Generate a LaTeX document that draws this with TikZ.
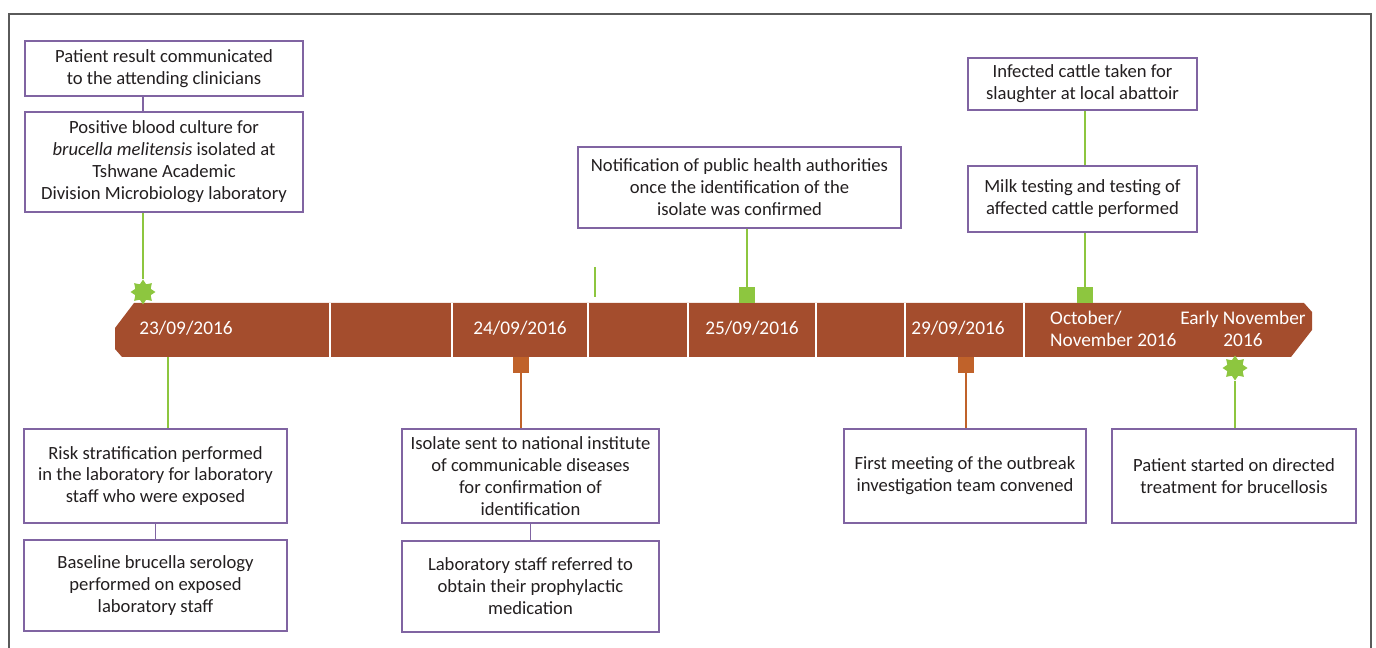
\documentclass[tikz,border=0pt]{standalone}
\usepackage{fontspec}
\setmainfont{Carlito}
\usetikzlibrary{shapes.geometric}

\definecolor{barbrown}{RGB}{164,77,45}
\definecolor{leafgreen}{RGB}{141,198,63}
\definecolor{rust}{RGB}{192,98,42}
\definecolor{boxpurple}{RGB}{128,100,162}
\definecolor{framegray}{RGB}{90,90,90}
\definecolor{inkgray}{RGB}{35,31,32}

\tikzset{
  box/.style 2 args={draw=boxpurple,line width=0.9pt,fill=white,align=center,inner sep=0pt,
    minimum width=#1*0.02cm,minimum height=#2*0.02cm},
  date/.style={text=white,align=center,font=\fontsize{11}{12.5}\selectfont},
  sun/.style={star,star points=8,star point ratio=1.5,fill=leafgreen,minimum size=0.5cm,inner sep=0pt},
  tab/.style={fill=#1,minimum size=0.31cm,inner sep=0pt},
  greenline/.style={draw=leafgreen,line width=0.9pt},
  rustline/.style={draw=rust,line width=0.9pt},
  purpleline/.style={draw=boxpurple,line width=0.9pt}
}

\begin{document}
\begin{tikzpicture}[x=0.02cm,y=-0.02cm,every node/.style={text=inkgray,font=\fontsize{10.6}{12.5}\selectfont}]
	\useasboundingbox (0,0) rectangle (1376,648);
	\draw[framegray,line width=1pt] (9,648) -- (9,14) -- (1371,14) -- (1371,648);

	% the time bar
	\fill[barbrown] (134,303) -- (1304,303) -- (1312,312) -- (1312,330) -- (1291,357)
		-- (122,357) -- (115,349) -- (115,328) -- cycle;
	\foreach \x in {330,452,588,688,816,905,1024}
		\draw[white,line width=0.8pt] (\x,303) -- (\x,357);

	\node[date] (d23) at (186,328) {23/09/2016};
	\node[date] (d24) at (520,328) {24/09/2016};
	\node[date] (d25) at (752,328) {25/09/2016};
	\node[date] (d29) at (958,328) {29/09/2016};
	\node[date,align=left,anchor=west] (doct) at (1044,329) {October/\\November 2016};
	\node[date] (dnov) at (1243,329) {Early November\\2016};

	% boxes above the bar
	\node[box={278}{55}] (result) at (164,68.5) {Patient result communicated\\to the attending clinicians};
	\node[box={278}{100}] (blood) at (164,162) {Positive blood culture for\\\textit{brucella melitensis} isolated at\\Tshwane Academic\\Division Microbiology laboratory};
	\node[box={323}{81}] (notify) at (739.5,187.5) {Notification of public health authorities\\once the identification of the\\isolate was confirmed};
	\node[box={229}{52}] (cattle) at (1082.5,84) {Infected cattle taken for\\slaughter at local abattoir};
	\node[box={229}{66}] (milk) at (1082.5,199) {Milk testing and testing of\\affected cattle performed};

	% boxes below the bar
	\node[box={263}{94}] (risk) at (155.5,476) {Risk stratification performed\\in the laboratory for laboratory\\staff who were exposed};
	\node[box={263}{91}] (sero) at (155.5,585.5) {Baseline brucella serology\\performed on exposed\\laboratory staff};
	\node[box={257}{94}] (isolate) at (530.5,476) {Isolate sent to national institute\\of communicable diseases\\for confirmation of\\identification};
	\node[box={257}{91}] (referred) at (530.5,586.5) {Laboratory staff referred to\\obtain their prophylactic\\medication};
	\node[box={242}{94}] (meeting) at (965,476) {First meeting of the outbreak\\investigation team convened};
	\node[box={244}{94}] (started) at (1234,476) {Patient started on directed\\treatment for brucellosis};

	% markers on the bar
	\node[sun] (sun1) at (143,292) {};
	\node[sun] (sun2) at (1235,368) {};
	\node[tab=leafgreen,anchor=south] (sq25) at (747,303) {};
	\node[tab=leafgreen,anchor=south] (sqoct) at (1085,303) {};
	\node[tab=rust,anchor=north] (sq24) at (521,357) {};
	\node[tab=rust,anchor=north] (sq29) at (966,357) {};
	\coordinate (tick23) at (168,357);
	\coordinate (stubtop) at (595,267);
	\coordinate (stubbot) at (595,297);

	% connectors
	\draw[purpleline] (result.south -| sun1) -- (blood.north -| sun1);
	\draw[purpleline] (risk.south) -- (sero.north);
	\draw[purpleline] (isolate.south) -- (referred.north);
	\draw[greenline] (cattle.south -| sqoct) -- (milk.north -| sqoct);

	\draw[greenline] (sun1.north) -- (sun1.north |- blood.south);
	\draw[greenline] (tick23) -- (tick23 |- risk.north);
	\draw[greenline] (stubtop) -- (stubbot);
	\draw[greenline] (sq25.north) -- (sq25.north |- notify.south);
	\draw[greenline] (sqoct.north) -- (sqoct.north |- milk.south);
	\draw[greenline] (sun2.south) -- (sun2.south |- started.north);
	\draw[rustline] (sq24.south) -- (sq24.south |- isolate.north);
	\draw[rustline] (sq29.south) -- (sq29.south |- meeting.north);
\end{tikzpicture}
\end{document}
